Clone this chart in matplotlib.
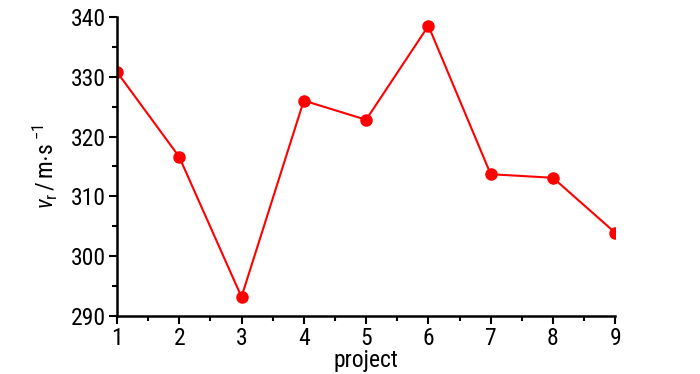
import matplotlib
matplotlib.use("Agg")
import matplotlib.pyplot as plt
from matplotlib.ticker import MultipleLocator
from matplotlib import font_manager

projects = [1, 2, 3, 4, 5, 6, 7, 8, 9]
vr = [330.8, 316.6, 293.2, 326.0, 322.8, 338.5, 313.7, 313.1, 303.9]

names = {f.name for f in font_manager.fontManager.ttflist}
fam = 'Liberation Sans'
for cand in ['Liberation Sans Narrow', 'Nimbus Sans Narrow', 'Arial Narrow',
             'Roboto Condensed', 'Archivo Narrow']:
    if cand in names:
        fam = cand
        break
plt.rcParams['font.family'] = [fam, 'DejaVu Sans']
plt.rcParams['mathtext.fontset'] = 'custom'
plt.rcParams['mathtext.rm'] = fam
plt.rcParams['mathtext.it'] = fam + ':italic'

fig = plt.figure(figsize=(7, 3.74), dpi=100)
ax = fig.add_axes([0.167, 0.155, 0.712, 0.80])
ax.plot(projects, vr, color='#ff0000', lw=1.5, marker='o', ms=8, clip_on=True)
ax.set_xlim(1, 9)
ax.set_ylim(290, 340)
ax.xaxis.set_major_locator(MultipleLocator(1))
ax.xaxis.set_minor_locator(MultipleLocator(0.5))
ax.yaxis.set_major_locator(MultipleLocator(10))
ax.yaxis.set_minor_locator(MultipleLocator(5))
for s in ['top', 'right']:
    ax.spines[s].set_visible(False)
for s in ['left', 'bottom']:
    ax.spines[s].set_linewidth(1.8)
ax.tick_params(which='major', direction='out', length=6, width=1.5, labelsize=17, pad=2)
ax.tick_params(which='minor', direction='out', length=3.5, width=1.5)
ax.set_xlabel('project', fontsize=17, labelpad=-1)
ax.set_ylabel(r'$\mathit{v}_\mathrm{r}\,/\,\mathrm{m{\cdot}s}^{\ \mathrm{-1}}$', fontsize=17, labelpad=8)
fig.savefig('out.png', dpi=100)
